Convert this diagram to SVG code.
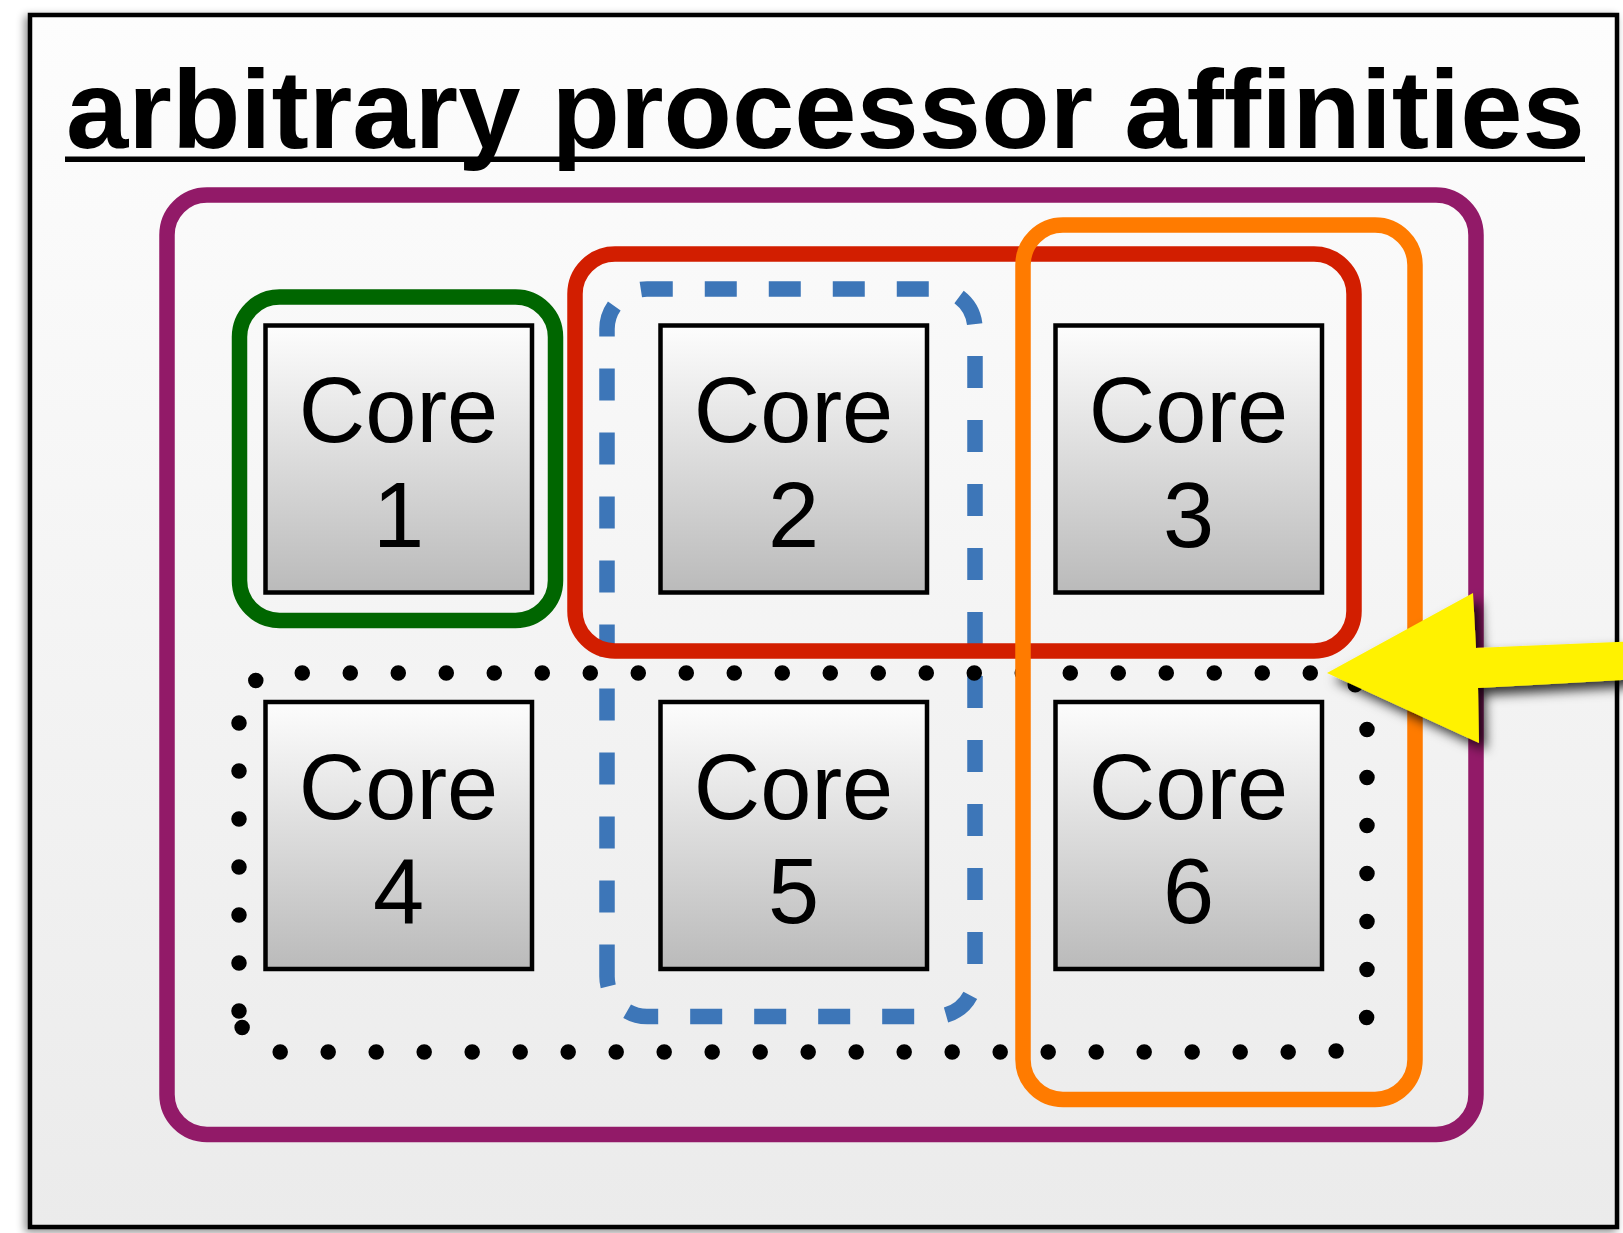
<svg xmlns="http://www.w3.org/2000/svg" width="1623" height="1233" viewBox="0 0 1623 1233">
  <defs>
    <linearGradient id="bgGrad" x1="0" y1="0" x2="0" y2="1">
      <stop offset="0" stop-color="#fdfdfd"/>
      <stop offset="1" stop-color="#ebebeb"/>
    </linearGradient>
    <linearGradient id="coreGrad" x1="0" y1="0" x2="0" y2="1">
      <stop offset="0" stop-color="#fdfdfd"/>
      <stop offset="1" stop-color="#bababa"/>
    </linearGradient>
    <filter id="frameShadow" x="-5%" y="-5%" width="110%" height="110%">
      <feDropShadow dx="-3" dy="3" stdDeviation="4" flood-color="#000" flood-opacity="0.45"/>
    </filter>
    <filter id="arrowShadow" x="-20%" y="-40%" width="140%" height="180%">
      <feDropShadow dx="7" dy="7" stdDeviation="6" flood-color="#000" flood-opacity="0.8"/>
    </filter>
    <style>
      .ring { fill: none; stroke-width: 15.5; }
      .core rect { fill: url(#coreGrad); stroke: #000; stroke-width: 4.5; }
      .core text { font-family: "Liberation Sans", Arial, Helvetica, sans-serif; font-size: 92px; fill: #000; text-anchor: middle; }
      .title { font-family: "Liberation Sans", Arial, Helvetica, sans-serif; font-weight: bold; font-size: 112px; fill: #000; }
    </style>
  </defs>

  <rect x="0" y="0" width="1623" height="1233" fill="#ffffff"/>

  <g id="frame">
    <rect x="30" y="15" width="1587" height="1212" fill="url(#bgGrad)" stroke="#000" stroke-width="4.5" filter="url(#frameShadow)"/>
  </g>

  <g id="title">
    <text class="title" x="66" y="148">arbitrary processor affinities</text>
    <rect x="65" y="156.5" width="1520" height="5.5" fill="#000"/>
  </g>

  <g id="affinity-all">
    <rect class="ring" x="167" y="195" width="1309" height="939.5" rx="40" ry="40" stroke="#921a68"/>
  </g>
  <g id="affinity-core1">
    <rect class="ring" x="239.5" y="297" width="316" height="323.5" rx="40" ry="40" stroke="#006600"/>
  </g>
  <g id="affinity-cores25">
    <path class="ring" d="M607,976.5 V329 A40,40 0 0 1 647,289 H935 A40,40 0 0 1 975,329 V976.5 A40,40 0 0 1 935,1016.5 H647 A40,40 0 0 1 607,976.5 Z" stroke="#3d76b8" stroke-dasharray="32 32"/>
  </g>
  <g id="affinity-cores456">
    <path d="M239,1011 V713 A40,40 0 0 1 279,673 H1327 A40,40 0 0 1 1367,713 V1012 A40,40 0 0 1 1327,1052 H279 A40,40 0 0 1 239,1012 Z" fill="none" stroke="#000" stroke-width="15.5" stroke-linecap="round" stroke-dasharray="0 48"/>
  </g>
  <g id="affinity-cores23">
    <rect class="ring" x="575" y="254" width="779" height="397" rx="40" ry="40" stroke="#d21e00"/>
  </g>
  <g id="affinity-cores36">
    <rect class="ring" x="1023" y="225" width="392" height="874.5" rx="40" ry="40" stroke="#ff7b00"/>
  </g>

  <g id="core1" class="core">
    <rect x="265.5" y="325.5" width="266.5" height="267"/>
    <text x="398.5" y="442">Core</text>
    <text x="398.5" y="547">1</text>
  </g>
  <g id="core2" class="core">
    <rect x="660.5" y="325.5" width="266.5" height="267"/>
    <text x="793.5" y="442">Core</text>
    <text x="793.5" y="547">2</text>
  </g>
  <g id="core3" class="core">
    <rect x="1055.5" y="325.5" width="266.5" height="267"/>
    <text x="1188.5" y="442">Core</text>
    <text x="1188.5" y="547">3</text>
  </g>
  <g id="core4" class="core">
    <rect x="265.5" y="702" width="266.5" height="267"/>
    <text x="398.5" y="818.5">Core</text>
    <text x="398.5" y="923">4</text>
  </g>
  <g id="core5" class="core">
    <rect x="660.5" y="702" width="266.5" height="267"/>
    <text x="793.5" y="818.5">Core</text>
    <text x="793.5" y="923">5</text>
  </g>
  <g id="core6" class="core">
    <rect x="1055.5" y="702" width="266.5" height="267"/>
    <text x="1188.5" y="818.5">Core</text>
    <text x="1188.5" y="923">6</text>
  </g>

  <g id="connectors">
    <polygon points="1327,673 1473,593 1476,648 1640,641 1640,679 1478,688 1479,743" fill="#fff200" filter="url(#arrowShadow)"/>
  </g>
</svg>
